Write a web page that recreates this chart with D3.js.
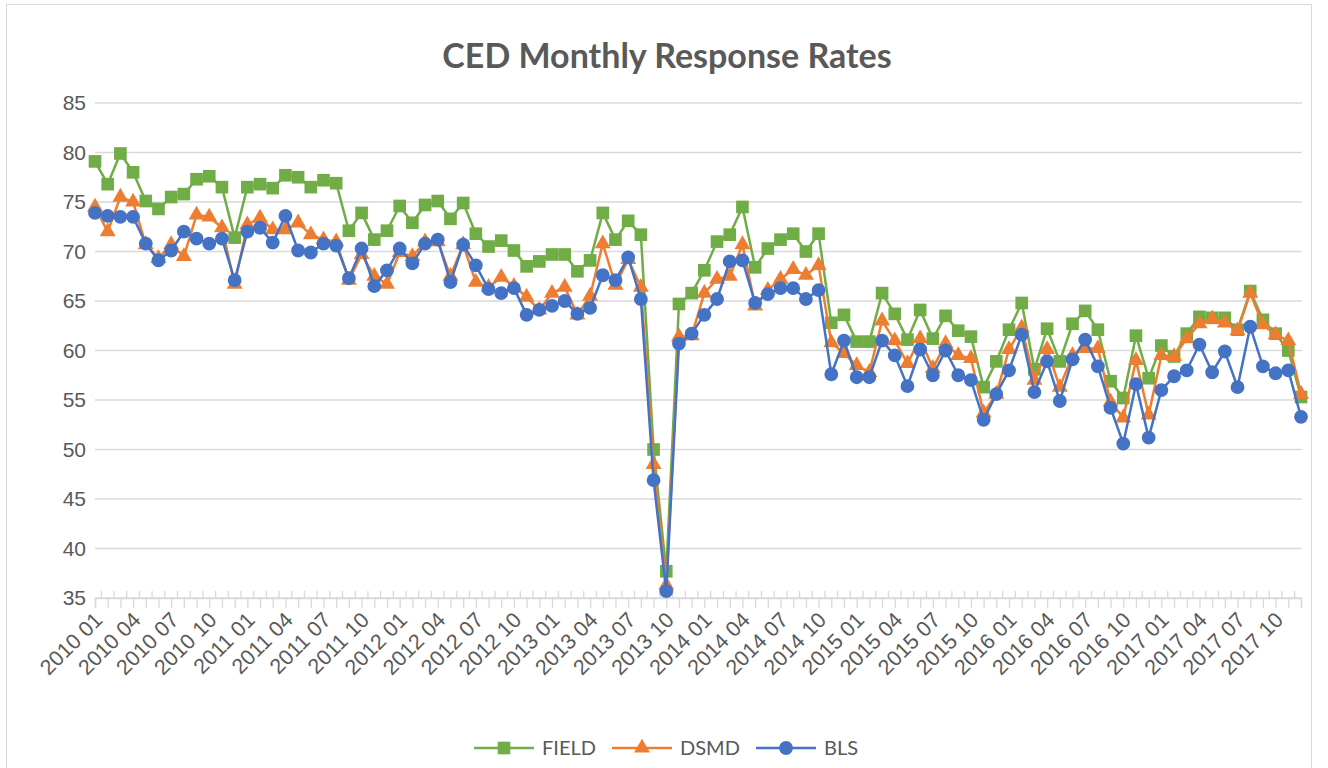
<!DOCTYPE html>
<meta charset="utf-8">
<style>
body { margin: 0; background: #fff; }
svg { font-family: Lato, "Open Sans", sans-serif; }
.grid line { stroke: #d9d9d9; stroke-width: 1.3px; }
.line { fill: none; stroke-width: 2.5px; stroke-linejoin: round; }
.tick text { fill: #595959; font-size: 21px; }
.x-axis .tick text { font-size: 21.5px; }
</style>
<body>
<script src="https://d3js.org/d3.v7.js"></script>
<script>
// months 2010 01 .. 2017 12
var years = [2010, 2011, 2012, 2013, 2014, 2015, 2016, 2017];
var months = ["01","02","03","04","05","06","07","08","09","10","11","12"];
var categories = [];
years.forEach(function(yr) { months.forEach(function(m) { categories.push(yr + " " + m); }); });
var tickLabels = categories.filter(function(d, i) { return i % 3 === 0; });
var yTicks = [35, 40, 45, 50, 55, 60, 65, 70, 75, 80, 85];

var field = [79.1, 76.8, 79.9, 78.0, 75.1, 74.3, 75.5, 75.8, 77.3, 77.6, 76.5, 71.4,
             76.5, 76.8, 76.4, 77.7, 77.5, 76.5, 77.2, 76.9, 72.1, 73.9, 71.2, 72.1,
             74.6, 72.9, 74.7, 75.1, 73.3, 74.9, 71.8, 70.5, 71.1, 70.1, 68.5, 69.0,
             69.7, 69.7, 68.0, 69.1, 73.9, 71.2, 73.1, 71.7, 50.0, 37.7, 64.7, 65.8,
             68.1, 71.0, 71.7, 74.5, 68.4, 70.3, 71.2, 71.8, 70.0, 71.8, 62.8, 63.6,
             60.9, 60.9, 65.8, 63.7, 61.1, 64.1, 61.2, 63.5, 62.0, 61.4, 56.3, 58.9,
             62.1, 64.8, 58.1, 62.2, 58.9, 62.7, 64.0, 62.1, 56.9, 55.2, 61.5, 57.2,
             60.5, 59.4, 61.7, 63.4, 63.3, 63.3, 62.1, 66.0, 63.1, 61.7, 60.0, 55.3];

var dsmd = [74.5, 72.0, 75.5, 75.0, 70.7, 69.3, 70.7, 69.5, 73.7, 73.5, 72.4, 66.7,
            72.7, 73.4, 72.2, 72.2, 72.9, 71.7, 71.2, 71.0, 67.1, 69.7, 67.5, 66.7,
            69.9, 69.5, 71.0, 71.0, 67.5, 70.7, 66.9, 66.4, 67.4, 66.5, 65.4, 64.1,
            65.8, 66.4, 63.6, 65.5, 70.8, 66.6, 69.2, 66.4, 48.5, 36.3, 61.4, 61.5,
            65.8, 67.2, 67.5, 70.7, 64.5, 66.1, 67.2, 68.2, 67.6, 68.6, 60.8, 59.7,
            58.5, 57.8, 63.0, 61.0, 58.7, 61.2, 58.2, 60.7, 59.5, 59.2, 53.7, 55.6,
            60.1, 62.3, 57.0, 60.1, 56.3, 59.5, 60.2, 60.2, 54.8, 53.2, 59.0, 53.5,
            59.5, 59.4, 61.2, 62.7, 63.2, 62.8, 62.0, 65.8, 62.6, 61.6, 61.0, 55.6];

var bls = [73.9, 73.6, 73.5, 73.5, 70.8, 69.1, 70.1, 72.0, 71.3, 70.8, 71.3, 67.1,
           72.0, 72.4, 70.9, 73.6, 70.1, 69.9, 70.8, 70.6, 67.3, 70.3, 66.5, 68.1,
           70.3, 68.8, 70.8, 71.2, 66.9, 70.7, 68.6, 66.2, 65.8, 66.3, 63.6, 64.1,
           64.5, 65.0, 63.7, 64.3, 67.6, 67.1, 69.4, 65.2, 46.9, 35.7, 60.7, 61.7,
           63.6, 65.2, 69.0, 69.1, 64.8, 65.7, 66.3, 66.3, 65.2, 66.1, 57.6, 61.0,
           57.3, 57.3, 61.0, 59.5, 56.4, 60.1, 57.5, 60.0, 57.5, 57.0, 53.0, 55.6,
           58.0, 61.6, 55.8, 58.9, 54.9, 59.1, 61.1, 58.4, 54.2, 50.6, 56.6, 51.2,
           56.0, 57.4, 58.0, 60.6, 57.8, 59.9, 56.3, 62.4, 58.4, 57.7, 58.0, 53.3];

var series = [
  {name: "FIELD", values: field, color: "#70ad47", symbol: d3.symbolSquare, size: 160},
  {name: "DSMD",  values: dsmd,  color: "#ed7d31", symbol: d3.symbolTriangle, size: 110},
  {name: "BLS",   values: bls,   color: "#4472c4", symbol: d3.symbolCircle, size: 150}
];

var width = 1328, height = 768;
var plotLeft = 95, plotRight = 1301, plotTop = 103, plotBottom = 598;

var svg = d3.select("body").append("svg")
    .attr("width", width)
    .attr("height", height);

// chart frame
svg.append("rect")
    .attr("x", 6.5).attr("y", 4.5)
    .attr("width", 1305).attr("height", 800)
    .attr("fill", "none")
    .attr("stroke", "#d9d9d9")
    .attr("stroke-width", 1);

var x = d3.scalePoint().domain(categories).range([plotLeft, plotRight]);
var y = d3.scaleLinear().domain([35, 85]).range([plotBottom, plotTop]);

// gridlines
svg.append("g").attr("class", "grid")
  .selectAll("line").data(yTicks).join("line")
    .attr("x1", plotLeft).attr("x2", plotRight + 1)
    .attr("y1", function(d) { return y(d); })
    .attr("y2", function(d) { return y(d); });

// y axis labels
var yAxis = svg.append("g")
    .attr("transform", "translate(" + plotLeft + ",0)")
    .call(d3.axisLeft(y).tickValues(yTicks).tickSize(0).tickPadding(9));
yAxis.select(".domain").remove();

// x axis: ticks below on categories, labels every quarter
var xAxis = svg.append("g")
    .attr("class", "x-axis")
    .attr("transform", "translate(0," + plotBottom + ")")
    .call(d3.axisBottom(x).tickSize(10).tickPadding(4)
      .tickFormat(function(d) { return tickLabels.indexOf(d) >= 0 ? d : ""; }));
xAxis.select(".domain").attr("stroke", "#d9d9d9").attr("stroke-width", 1.5);
xAxis.selectAll(".tick line").attr("stroke", "#d9d9d9").attr("stroke-width", 1.3);
xAxis.selectAll(".tick text")
    .attr("text-anchor", "end")
    .attr("transform", "translate(3,18) rotate(-45)")
    .attr("y", 0).attr("dy", "0.35em");

// short upper ticks between categories
svg.append("g")
  .selectAll("line").data(categories.slice(1)).join("line")
    .attr("x1", function(d) { return x(d) - x.step() / 2; })
    .attr("x2", function(d) { return x(d) - x.step() / 2; })
    .attr("y1", plotBottom - 7).attr("y2", plotBottom)
    .attr("stroke", "#d9d9d9").attr("stroke-width", 1.3);

// lines and markers
series.forEach(function(s) {
  var line = d3.line()
      .x(function(d, i) { return x(categories[i]); })
      .y(function(d) { return y(d); });
  svg.append("path")
      .datum(s.values)
      .attr("class", "line")
      .style("stroke", s.color)
      .attr("d", line);
  svg.append("g")
    .selectAll("path").data(s.values).join("path")
      .attr("transform", function(d, i) { return "translate(" + x(categories[i]) + "," + y(d) + ")"; })
      .attr("d", d3.symbol().type(s.symbol).size(s.size))
      .attr("fill", s.color);
});

// title
svg.append("text")
    .attr("x", 667).attr("y", 68)
    .attr("text-anchor", "middle")
    .style("font-size", "34px")
    .style("font-weight", "bold")
    .style("fill", "#595959")
    .text("CED Monthly Response Rates");

// legend
var legendX = [474, 612, 756];
var legend = svg.append("g").attr("transform", "translate(0,748)");
series.forEach(function(s, i) {
  var g = legend.append("g").attr("transform", "translate(" + legendX[i] + ",0)");
  g.append("line").attr("x1", 0).attr("x2", 60)
      .attr("stroke", s.color).attr("stroke-width", 2.5);
  g.append("path")
      .attr("transform", "translate(30,0)")
      .attr("d", d3.symbol().type(s.symbol).size(s.size))
      .attr("fill", s.color);
  g.append("text")
      .attr("x", 68).attr("dy", "0.35em")
      .style("font-size", "20px")
      .style("fill", "#595959")
      .text(s.name);
});
</script>
</body>
